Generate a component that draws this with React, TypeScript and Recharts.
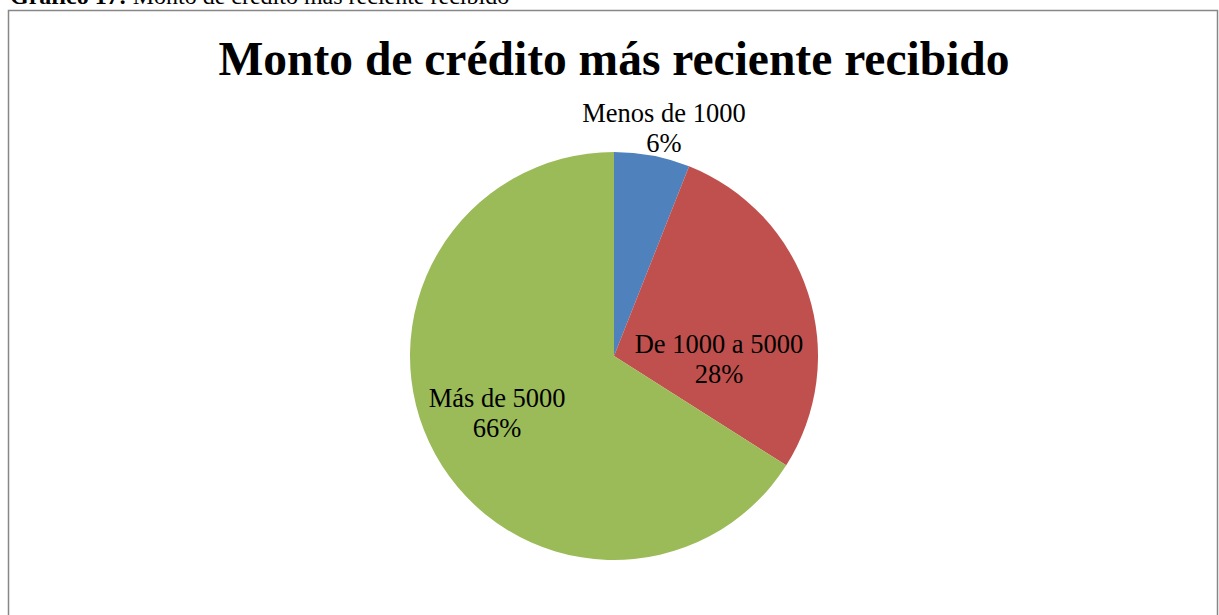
import React from "react";
import { PieChart, Pie, Cell } from "recharts";

const categories = ["Menos de 1000", "De 1000 a 5000", "Más de 5000"];
const percentages = [6, 28, 66];
const colors = ["#4F81BD", "#C0504D", "#9BBB59"];

const data = categories.map((name, i) => ({ name, value: percentages[i] }));

const FONT = "'Liberation Serif', 'Times New Roman', serif";

// label placement tweaks (radius factor, angle delta) per slice, mimicking Excel best-fit
const labelPlacement = [
  { rf: 1.14, da: -1.6 },
  { rf: 0.515, da: -20.2 },
  { rf: 0.64, da: -2.3 },
];

const RADIAN = Math.PI / 180;

const renderLabel = (props: any) => {
  const { cx, cy, midAngle, outerRadius, index, payload } = props;
  const p = labelPlacement[index];
  const ang = (midAngle + p.da) * RADIAN;
  const r = outerRadius * p.rf;
  const x = cx + r * Math.cos(ang);
  const y = cy - r * Math.sin(ang);
  return (
    <text
      x={x}
      y={y}
      textAnchor="middle"
      fontFamily={FONT}
      fontSize={26.5}
      fill="#000"
    >
      <tspan x={x} y={y - 7}>{payload.name}</tspan>
      <tspan x={x} y={y + 23}>{`${payload.value}%`}</tspan>
    </text>
  );
};

export default function App() {
  return (
    <div
      style={{
        position: "absolute",
        left: 0,
        top: 0,
        width: 1219,
        height: 615,
        overflow: "hidden",
        background: "#fff",
      }}
    >
      <svg
        width={1219}
        height={615}
        style={{ position: "absolute", left: 0, top: 0 }}
      >
        <text x={10} y={4} fontFamily={FONT} fontSize={24} fill="#000">
          <tspan fontWeight="bold">Gráfico 17:</tspan>
          <tspan> Monto de crédito más reciente recibido</tspan>
        </text>
        <rect
          x={8.5}
          y={10.5}
          width={1209}
          height={620}
          fill="none"
          stroke="#878787"
          strokeWidth={1.5}
        />
        <text
          x={614}
          y={75}
          textAnchor="middle"
          fontFamily={FONT}
          fontSize={47.5}
          fontWeight="bold"
          fill="#000"
        >
          Monto de crédito más reciente recibido
        </text>
      </svg>
      <div style={{ position: "absolute", left: 0, top: 0 }}>
        <PieChart width={1219} height={615} margin={{ top: 0, right: 0, bottom: 0, left: 0 }}>
          <Pie
            data={data}
            dataKey="value"
            nameKey="name"
            cx={614}
            cy={356}
            outerRadius={204}
            startAngle={90}
            endAngle={-270}
            stroke="none"
            label={renderLabel}
            labelLine={false}
            isAnimationActive={false}
          >
            {data.map((d, i) => (
              <Cell key={d.name} fill={colors[i]} />
            ))}
          </Pie>
        </PieChart>
      </div>
    </div>
  );
}
